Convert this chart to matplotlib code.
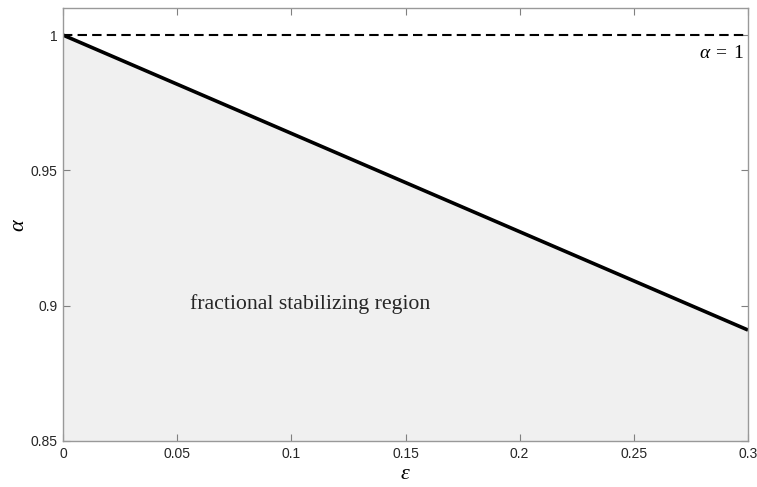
import numpy as np
import matplotlib
matplotlib.use("Agg")
import matplotlib.pyplot as plt

# boundary of the stabilizing region (endpoints)
eps = [0.0, 0.3]
alpha = [1.0, 0.891]
alpha_ref = 1.0

xticks = [0, 0.05, 0.1, 0.15, 0.2, 0.25, 0.3]
xtick_labels = ['0', '0.05', '0.1', '0.15', '0.2', '0.25', '0.3']
yticks = [0.85, 0.9, 0.95, 1.0]
ytick_labels = ['0.85', '0.9', '0.95', '1']

plt.rcParams['mathtext.fontset'] = 'custom'
plt.rcParams['mathtext.rm'] = 'Liberation Serif'
plt.rcParams['mathtext.it'] = 'Liberation Serif:italic'

fig = plt.figure(figsize=(7.57, 4.87), dpi=100)
ax = fig.add_axes([63/757, 46/487, 685/757, 433/487])

ax.fill_between(eps, alpha, 0.85, color='#f0f0f0', lw=0)
ax.plot(eps, alpha, color='black', lw=2.6, solid_capstyle='butt')
ax.axhline(alpha_ref, color='black', lw=1.5, ls=(0, (4.5, 2.5)))

ax.text(0.2985, 0.9935, r'$\alpha\;=\;1$', ha='right', va='center', fontsize=14)
ax.text(0.0556, 0.9005, 'fractional stabilizing region', ha='left', va='center',
        fontsize=15.7, family='Liberation Serif', color='#262626')

ax.set_xlim(0, 0.3)
ax.set_ylim(0.85, 1.01)
ax.set_xticks(xticks)
ax.set_xticklabels(xtick_labels)
ax.set_yticks(yticks)
ax.set_yticklabels(ytick_labels)
ax.tick_params(direction='in', length=5, width=0.8, color='#808080',
               labelcolor='#262626', labelsize=10, top=True, right=True, pad=4)
for lab in ax.get_xticklabels() + ax.get_yticklabels():
    lab.set_family('Liberation Sans')
for sp in ax.spines.values():
    sp.set_color('#999999')
    sp.set_linewidth(1.0)

ax.set_xlabel(r'$\varepsilon$', fontsize=16, labelpad=2)
ax.set_ylabel(r'$\alpha$', fontsize=16, labelpad=2)

fig.savefig('out.png', dpi=100)
